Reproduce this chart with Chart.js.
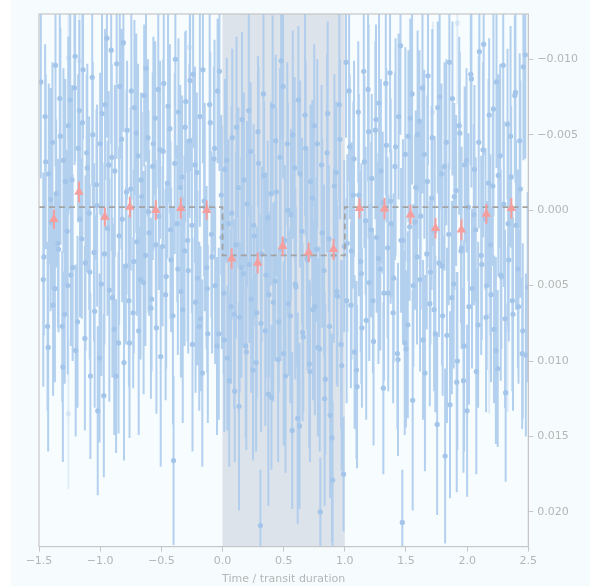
<!DOCTYPE html>
<html>
<head>
<meta charset="utf-8">
<script src="https://cdn.jsdelivr.net/npm/chart.js@4.4.1/dist/chart.umd.min.js"></script>
<style>
    html, body { margin: 0; padding: 0; background: #ffffff; }
    #wrap { width: 590px; height: 586px; }
</style>
</head>
<body>
<div id="wrap"><canvas id="transitChart" width="590" height="586"></canvas></div>
<script>
// observed points (time in transit durations, flux offset in 1e-3 units, error in 1e-3)
const timeVals = [
    -1.46,-1.45,-1.43,-1.42,-1.40,-1.39,-1.37,-1.36,-1.34,-1.33,
    -1.31,-1.30,-1.29,-1.27,-1.26,-1.24,-1.23,-1.21,-1.20,-1.18,
    -1.17,-1.15,-1.14,-1.12,-1.11,-1.09,-1.08,-1.06,-1.05,-1.03,
    -1.02,-1.00,-0.99,-0.97,-0.96,-0.94,-0.93,-0.91,-0.90,-0.88,
    -0.87,-0.85,-0.84,-0.82,-0.81,-0.79,-0.78,-0.76,-0.75,-0.73,
    -0.72,-0.70,-0.69,-0.67,-0.66,-0.64,-0.63,-0.61,-0.60,-0.58,
    -0.57,-0.55,-0.54,-0.52,-0.51,-0.49,-0.48,-0.46,-0.45,-0.43,
    -0.42,-0.40,-0.39,-0.37,-0.36,-0.34,-0.33,-0.31,-0.30,-0.28,
    -0.27,-0.25,-0.24,-0.22,-0.21,-0.19,-0.18,-0.16,-0.15,-0.13,
    -0.12,-0.10,-0.09,-0.07,-0.06,-0.04,-0.03,-0.01,
    0.01,0.02,0.04,0.05,0.07,0.08,0.10,0.11,0.13,0.14,
    0.16,0.17,0.19,0.20,0.22,0.23,0.25,0.26,0.28,0.29,
    0.31,0.32,0.34,0.35,0.37,0.38,0.40,0.41,0.43,0.44,
    0.46,0.47,0.48,0.50,0.51,0.53,0.54,0.56,0.57,0.59,
    0.60,0.62,0.63,0.65,0.66,0.68,0.69,0.71,0.72,0.74,
    0.75,0.77,0.78,0.80,0.81,0.83,0.84,0.86,0.87,0.88,
    0.90,0.91,0.93,0.94,0.96,0.97,0.99,
    1.01,1.02,1.04,1.05,1.07,1.08,1.10,1.11,1.13,1.14,
    1.16,1.17,1.19,1.20,1.22,1.23,1.25,1.26,1.28,1.29,
    1.31,1.32,1.34,1.35,1.37,1.38,1.40,1.41,1.43,1.44,
    1.46,1.47,1.49,1.50,1.52,1.53,1.55,1.56,1.58,1.59,
    1.61,1.62,1.64,1.65,1.67,1.68,1.70,1.71,1.73,1.74,
    1.76,1.77,1.79,1.80,1.82,1.83,1.85,1.86,1.88,1.89,
    1.91,1.92,1.94,1.95,1.97,1.98,2.00,2.01,2.03,2.04,
    2.06,2.07,2.09,2.10,2.12,2.13,2.15,2.16,2.18,2.19,
    2.21,2.22,2.24,2.25,2.27,2.28,2.30,2.31,2.33,2.34,
    2.36,2.37,2.39,2.40,2.42,2.43,2.45,2.46,2.48
];
const fluxMilli = [
    3.1,-6.2,7.7,-2.4,0.8,-4.5,5.2,-1.1,2.6,-7.4,
    7.7,-3.3,6.9,1.4,-5.6,4.3,-2.0,-8.1,9.3,-4.1,
    -6.6,1.9,-9.3,3.5,-3.8,0.2,11.0,-5.0,2.8,-1.7,
    13.3,-4.4,4.9,12.3,-7.0,1.2,-3.0,-10.6,5.8,-2.6,
    11.0,8.8,-8.2,0.6,-11.1,3.7,-5.3,8.8,-1.4,6.8,
    -6.8,2.1,-3.6,4.6,-0.9,-7.6,3.0,-4.8,1.5,5.9,
    -2.9,-6.1,7.8,0.4,-4.0,2.4,-8.4,4.4,-1.8,-5.4,
    3.3,16.6,-3.1,0.9,-6.5,5.4,-2.2,2.7,-7.2,4.0,
    -4.6,1.0,-9.0,6.1,-2.5,7.7,7.2,-9.3,-0.6,3.8,
    8.2,-5.8,1.6,-3.4,5.0,-7.9,8.2,-1.0,
    5.5,-2.7,9.8,0.9,6.4,-4.8,12.0,2.3,-1.5,7.1,
    -6.0,4.2,9.0,-0.4,3.6,-3.9,10.6,1.7,6.8,-5.2,
    20.9,2.9,-2.3,8.0,0.5,5.6,12.4,-6.9,4.7,-1.2,
    7.4,-3.5,-9.9,9.5,2.0,-4.4,6.2,0.3,14.6,-2.8,
    5.1,-7.3,14.3,1.4,8.4,-4.1,3.2,10.2,-1.9,6.6,
    -5.6,2.6,9.1,20.0,-3.0,4.0,11.2,-6.4,1.9,13.6,
    17.9,3.0,-2.5,5.7,-4.7,8.9,17.5,
    -9.8,2.2,-4.2,6.3,-1.0,9.4,11.7,-6.5,3.4,7.8,
    -3.2,0.7,-8.0,4.8,-2.1,6.0,-5.3,1.8,-7.1,3.9,
    -0.5,5.5,-4.3,2.5,-9.1,0.9,4.5,-2.9,9.5,-6.2,
    2.0,20.7,8.8,9.2,-4.9,1.1,-7.7,5.0,-1.5,3.1,
    -5.9,0.4,8.6,-3.7,2.9,-8.9,4.1,-0.8,6.6,8.2,
    -6.8,3.5,-2.4,7.0,16.3,-4.5,1.6,12.9,-7.4,4.9,
    -1.3,10.0,-5.1,2.7,11.3,-3.0,13.3,-0.2,-9.0,5.2,
    -2.7,1.3,7.6,-10.5,3.6,-4.0,0.6,5.0,-6.3,2.3,
    -1.6,7.9,-8.5,10.5,-3.6,4.4,-0.4,7.2,-5.7,3.3,
    -2.2,6.0,-7.6,1.0,6.4,-4.6,9.5,-9.5,9.6
];
const errMilli = [
    5.2,4.8,5.6,6.0,4.5,5.3,6.2,4.9,5.5,5.8,
    5.0,6.1,4.6,5.4,5.9,4.7,6.3,5.1,5.7,4.9,
    6.0,5.3,4.6,5.8,5.2,6.4,5.5,4.8,5.9,5.0,
    5.6,4.7,6.1,5.4,5.0,5.8,4.9,6.2,5.3,5.7,
    5.1,6.0,4.8,5.5,5.9,5.2,4.6,6.3,5.4,5.0,
    5.8,4.9,6.1,5.3,5.6,4.7,6.0,5.2,5.5,4.8,
    6.2,5.1,5.7,4.9,5.9,5.3,4.6,6.1,5.0,5.6,
    4.8,5.6,6.0,5.2,4.9,5.7,5.4,6.3,4.7,5.5,
    5.1,5.8,4.9,6.0,5.3,5.6,4.8,6.2,5.0,5.4,
    5.9,4.7,5.5,6.1,5.2,4.8,5.7,5.3,
    5.4,6.0,4.8,5.6,5.1,5.9,4.7,6.2,5.3,5.0,
    5.8,4.9,6.1,5.5,5.2,4.6,6.0,5.4,5.7,5.0,
    3.7,5.8,4.9,6.3,5.1,5.5,4.8,6.0,5.3,5.6,
    4.7,5.9,5.2,6.1,5.0,5.4,4.8,5.7,5.2,6.0,
    5.3,4.9,5.5,6.2,5.0,5.8,4.7,5.6,5.1,6.0,
    5.4,4.8,5.9,3.6,5.3,5.7,5.0,6.1,4.9,5.5,
    5.2,5.8,4.7,6.0,5.3,5.6,3.8,
    5.0,5.9,4.8,5.5,6.2,5.1,5.4,4.7,6.0,5.3,
    5.7,4.9,6.1,5.2,5.6,4.8,5.9,5.0,6.3,5.4,
    4.7,5.8,5.1,6.0,5.3,4.9,5.6,6.2,5.0,5.5,
    4.8,3.5,6.1,5.2,5.7,4.9,6.0,5.4,5.1,5.8,
    4.7,6.2,5.3,5.6,5.0,5.9,4.8,6.1,5.4,5.2,
    5.7,4.9,6.0,5.3,5.8,5.5,4.7,6.2,5.1,5.6,
    5.0,5.9,5.4,4.8,6.1,5.2,5.7,4.9,6.0,5.3,
    5.6,4.8,5.5,6.2,5.0,5.8,4.7,5.6,5.1,6.0,
    5.3,4.9,5.7,5.2,6.1,4.8,5.5,5.9,5.0,5.4,
    4.7,6.0,5.3,5.6,5.1,5.8,5.0,6.2,5.4
];

// second visit, interleaved in phase
const timeVals2 = [
    -1.485,-1.465,-1.445,-1.425,-1.405,-1.385,-1.365,-1.345,-1.325,-1.305,
    -1.285,-1.265,-1.245,-1.225,-1.205,-1.185,-1.165,-1.145,-1.125,-1.105,
    -1.085,-1.065,-1.045,-1.025,-1.005,-0.985,-0.965,-0.945,-0.925,-0.905,
    -0.885,-0.865,-0.845,-0.825,-0.805,-0.785,-0.765,-0.745,-0.725,-0.705,
    -0.685,-0.665,-0.645,-0.625,-0.605,-0.585,-0.565,-0.545,-0.525,-0.505,
    -0.485,-0.465,-0.445,-0.425,-0.405,-0.385,-0.365,-0.345,-0.325,-0.305,
    -0.285,-0.265,-0.245,-0.225,-0.205,-0.185,-0.165,-0.145,-0.125,-0.105,
    -0.085,-0.065,-0.045,-0.025,-0.005,
    0.015,0.035,0.055,0.075,0.095,0.115,0.135,0.155,0.175,0.195,
    0.215,0.235,0.255,0.275,0.295,0.315,0.335,0.355,0.375,0.395,
    0.415,0.435,0.455,0.475,0.495,0.515,0.535,0.555,0.575,0.595,
    0.615,0.635,0.655,0.675,0.695,0.715,0.735,0.755,0.775,0.795,
    0.815,0.835,0.855,0.875,0.895,0.915,0.935,0.955,0.975,0.995,
    1.015,1.035,1.055,1.075,1.095,1.115,1.135,1.155,1.175,1.195,
    1.215,1.235,1.255,1.275,1.295,1.315,1.335,1.355,1.375,1.395,
    1.415,1.435,1.455,1.475,1.495,1.515,1.535,1.555,1.575,1.595,
    1.615,1.635,1.655,1.675,1.695,1.715,1.735,1.755,1.775,1.795,
    1.815,1.835,1.855,1.875,1.895,1.915,1.935,1.955,1.975,1.995,
    2.015,2.035,2.055,2.075,2.095,2.115,2.135,2.155,2.175,2.195,
    2.215,2.235,2.255,2.275,2.295,2.315,2.335,2.355,2.375,2.395,
    2.415,2.435,2.455,2.475,2.495
];
const fluxMilli2 = [
    -8.5,4.6,-3.2,9.1,-0.7,6.3,-9.6,2.2,-4.9,10.4,
    -1.9,5.0,-7.3,3.8,-10.2,7.4,0.6,-5.8,8.5,-2.8,
    4.1,-8.8,6.7,-0.3,9.8,-6.4,2.9,-11.4,5.3,-3.5,
    7.9,-9.7,1.7,-4.7,10.1,-1.2,6.0,-7.9,3.4,-5.1,
    8.0,-2.0,4.8,-9.4,0.1,6.5,-4.4,2.3,-8.0,9.7,
    -3.9,5.6,-6.9,1.3,7.0,-10.0,3.9,-1.5,6.6,-5.5,
    2.0,-8.6,8.9,-3.0,4.5,-6.2,10.8,-0.2,5.2,-7.0,
    3.1,-4.1,9.0,-9.2,1.8,
    8.6,-3.3,11.3,0.2,6.9,-5.5,13.0,3.8,-2.0,9.4,
    -6.6,5.9,1.0,10.1,-3.1,7.5,-7.7,4.3,12.2,-1.1,
    6.1,-4.6,9.9,2.6,-8.2,11.0,0.0,7.0,-5.0,4.9,
    13.8,-2.4,8.1,-6.3,3.3,10.7,-0.8,6.4,-4.4,9.2,
    1.5,12.5,-3.8,7.7,15.1,-1.6,5.4,-7.0,10.3,2.4,
    6.0,-7.9,2.7,-3.4,10.6,-1.0,4.2,-9.2,7.3,-5.2,
    1.3,8.7,-6.0,3.2,-2.6,11.8,-8.4,5.5,-0.6,6.8,
    -4.2,9.9,-10.9,2.0,-3.7,7.6,-6.1,12.6,0.8,-5.0,
    4.6,-8.1,10.8,-1.9,6.2,-4.8,1.4,14.2,-7.5,3.7,
    -2.9,8.3,-9.8,5.8,-0.9,11.4,-5.6,2.5,9.0,-3.3,
    6.4,-8.7,0.3,10.7,-4.5,3.0,-11.0,7.1,-1.8,5.6,
    -6.7,9.3,-2.3,4.3,-9.6,12.1,0.9,-4.9,6.9,-7.8,
    3.9,-1.4,8.0,-10.3,5.1
];
const errMilli2 = [
    6.4,7.1,5.8,6.9,7.4,6.0,6.7,5.6,7.2,6.3,
    6.8,5.9,7.3,6.2,7.0,5.7,6.5,7.5,6.1,6.9,
    5.8,7.2,6.4,6.7,5.6,7.1,6.0,6.6,7.4,6.2,
    7.0,6.3,5.9,7.3,6.5,6.8,5.7,7.2,6.1,6.6,
    6.9,5.8,7.4,6.2,6.7,6.0,7.1,5.6,6.5,7.3,
    6.1,7.0,6.4,5.9,7.2,6.6,5.7,6.8,7.5,6.3,
    6.7,6.0,7.1,6.5,5.8,7.3,6.2,6.9,5.6,7.0,
    6.4,7.2,5.9,6.6,7.4,
    6.1,6.8,5.7,7.1,6.3,6.0,6.9,7.3,5.8,6.5,
    7.0,6.2,6.7,5.9,6.4,7.2,5.7,6.8,7.4,6.1,
    6.6,5.7,6.8,7.4,6.1,6.4,7.1,5.8,6.9,6.3,
    7.0,6.2,5.9,6.7,7.3,6.0,6.5,7.2,5.6,6.8,
    6.3,7.1,6.6,5.8,6.9,7.4,6.1,6.4,7.0,5.7,
    6.8,6.0,7.2,6.5,5.9,6.7,7.3,6.2,6.6,7.1,
    5.8,6.9,6.3,7.0,6.1,5.7,7.4,6.5,6.8,6.0,
    7.2,6.4,5.9,6.7,7.1,6.2,6.6,7.3,5.8,6.9,
    6.1,7.0,6.5,5.7,6.8,7.2,6.3,6.0,7.4,6.6,
    6.9,5.8,7.1,6.4,6.2,7.3,5.9,6.7,7.0,6.1,
    6.5,7.2,6.0,6.8,5.7,6.6,7.4,6.3,6.9,5.8,
    7.1,6.2,6.7,7.0,6.1,5.9,6.8,7.3,6.4,6.0,
    6.6,7.2,5.8,6.9,6.3
];

// low-weight observations drawn faint
const faintTime = [-1.26, -1.26, -1.17, -0.27, 1.72, 1.92, 2.18, 2.33];
const faintFluxMilli = [-10.1, 13.5, -9.9, -10.8, -6.5, -12.4, 7.0, 7.9];
const faintErrMilli = [5.5, 5.0, 5.8, 5.2, 6.0, 5.4, 6.5, 5.5];

// binned points
const binTime = [-1.378, -1.173, -0.961, -0.757, -0.545, -0.341, -0.129, 0.075, 0.288, 0.492,
                 0.704, 0.908, 1.120, 1.324, 1.537, 1.741, 1.953, 2.157, 2.361];
const binFlux = [0.0006, -0.0012, 0.00046, -0.0002, 0.0000, -0.00013, 0.0000, 0.0032, 0.0035, 0.0024,
                 0.0028, 0.0026, -0.00013, -0.0001, 0.0003, 0.0012, 0.0013, 0.00026, -0.00013];
const binErr = [0.00065, 0.0007, 0.00062, 0.00068, 0.00066, 0.0007, 0.00064, 0.00068, 0.0007, 0.00066,
                0.00064, 0.00068, 0.00066, 0.0007, 0.00065, 0.00068, 0.0007, 0.00066, 0.00068];

// box transit model
const modelTime = [-1.5, 0, 0, 1, 1, 2.5];
const modelFlux = [-0.0002, -0.0002, 0.003, 0.003, -0.0002, -0.0002];

const yTicks = [-0.010, -0.005, 0.000, 0.005, 0.010, 0.015, 0.020];

function points(xs, ys, scale) {
    return xs.map((x, i) => ({ x: x, y: ys[i] * scale }));
}

function errorSegments(xs, ys, es, scale) {
    const out = [];
    xs.forEach((x, i) => {
        const y = ys[i] * scale, e = es[i] * scale;
        out.push({ x: x, y: y - e }, { x: x, y: y + e }, { x: x, y: null });
    });
    return out;
}

function fmt(v, digits) {
    const s = Math.abs(v).toFixed(digits);
    return (v < -1e-9 ? '\u2212' : '') + s;
}

const bgPlugin = {
    id: 'bgPlugin',
    beforeDraw(chart) {
        const { ctx, chartArea, scales } = chart;
        ctx.save();
        ctx.fillStyle = '#f6fcfd';
        ctx.fillRect(11, 0, chart.width - 11, chart.height);
        ctx.fillStyle = '#f7fdfe';
        ctx.fillRect(chartArea.left, chartArea.top, chartArea.width, chartArea.height);
        // transit window
        const x0 = scales.x.getPixelForValue(0);
        const x1 = scales.x.getPixelForValue(1);
        ctx.fillStyle = '#dde3eb';
        ctx.fillRect(x0, chartArea.top, x1 - x0, chartArea.height);
        ctx.restore();
    },
    afterDraw(chart) {
        const { ctx, chartArea } = chart;
        ctx.save();
        ctx.strokeStyle = '#c6c6c6';
        ctx.lineWidth = 1.2;
        ctx.strokeRect(chartArea.left, chartArea.top, chartArea.width, chartArea.height);
        ctx.restore();
    }
};

const allTime = timeVals.concat(timeVals2);
const allFlux = fluxMilli.concat(fluxMilli2);
const allErr = errMilli.concat(errMilli2);

const blue = 'rgba(172, 203, 237, 0.9)';
const faint = 'rgba(168, 200, 236, 0.3)';
const red = 'rgba(245, 158, 158, 1)';

new Chart(document.getElementById('transitChart'), {
    type: 'scatter',
    data: {
        datasets: [
            {
                label: 'bins',
                data: points(binTime, binFlux, 1),
                pointStyle: 'triangle',
                pointRadius: 5.5,
                backgroundColor: red,
                borderColor: red,
                borderWidth: 0,
                order: 0
            },
            {
                label: 'bin errors',
                type: 'line',
                data: errorSegments(binTime, binFlux, binErr, 1),
                borderColor: red,
                borderWidth: 2,
                pointRadius: 0,
                spanGaps: false,
                order: 1
            },
            {
                label: 'model',
                type: 'line',
                data: points(modelTime, modelFlux, 1),
                borderColor: '#a3a3a3',
                borderWidth: 1.8,
                borderDash: [6, 4],
                pointRadius: 0,
                order: 2
            },
            {
                label: 'data',
                data: points(allTime, allFlux, 0.001),
                pointRadius: 2.6,
                backgroundColor: 'rgba(164, 197, 234, 1)',
                borderWidth: 0,
                order: 3
            },
            {
                label: 'data errors',
                type: 'line',
                data: errorSegments(allTime, allFlux, allErr, 0.001),
                borderColor: blue,
                borderWidth: 2,
                pointRadius: 0,
                spanGaps: false,
                order: 4
            },
            {
                label: 'faint',
                data: points(faintTime, faintFluxMilli, 0.001),
                pointRadius: 2.6,
                backgroundColor: faint,
                borderWidth: 0,
                order: 5
            },
            {
                label: 'faint errors',
                type: 'line',
                data: errorSegments(faintTime, faintFluxMilli, faintErrMilli, 0.001),
                borderColor: faint,
                borderWidth: 2,
                pointRadius: 0,
                spanGaps: false,
                order: 6
            }
        ]
    },
    options: {
        responsive: false,
        animation: false,
        layout: { padding: { left: 39, top: 14, right: 8, bottom: 0 } },
        plugins: {
            legend: { display: false },
            tooltip: { enabled: false }
        },
        scales: {
            x: {
                type: 'linear',
                min: -1.5,
                max: 2.5,
                grid: {
                    drawOnChartArea: false,
                    drawTicks: true,
                    tickLength: 5,
                    color: '#c6c6c6'
                },
                border: { color: '#c6c6c6' },
                ticks: {
                    stepSize: 0.5,
                    color: '#b5b5b5',
                    font: { family: 'DejaVu Sans', size: 11 },
                    padding: 3,
                    maxRotation: 0,
                    callback: (v) => fmt(v, 1)
                },
                title: {
                    display: true,
                    text: 'Time / transit duration',
                    color: '#b5b5b5',
                    font: { family: 'DejaVu Sans', size: 11 },
                    padding: { top: 2, bottom: 0 }
                }
            },
            y: {
                type: 'linear',
                position: 'right',
                reverse: true,
                min: -0.0130,
                max: 0.0223,
                grid: {
                    drawOnChartArea: false,
                    drawTicks: true,
                    tickLength: 5,
                    color: '#c6c6c6'
                },
                border: { color: '#c6c6c6' },
                afterBuildTicks: (axis) => {
                    axis.ticks = yTicks.map(v => ({ value: v }));
                },
                ticks: {
                    color: '#b5b5b5',
                    font: { family: 'DejaVu Sans', size: 11 },
                    padding: 4,
                    callback: (v) => fmt(v, 3)
                }
            }
        }
    },
    plugins: [bgPlugin]
});
</script>
</body>
</html>
